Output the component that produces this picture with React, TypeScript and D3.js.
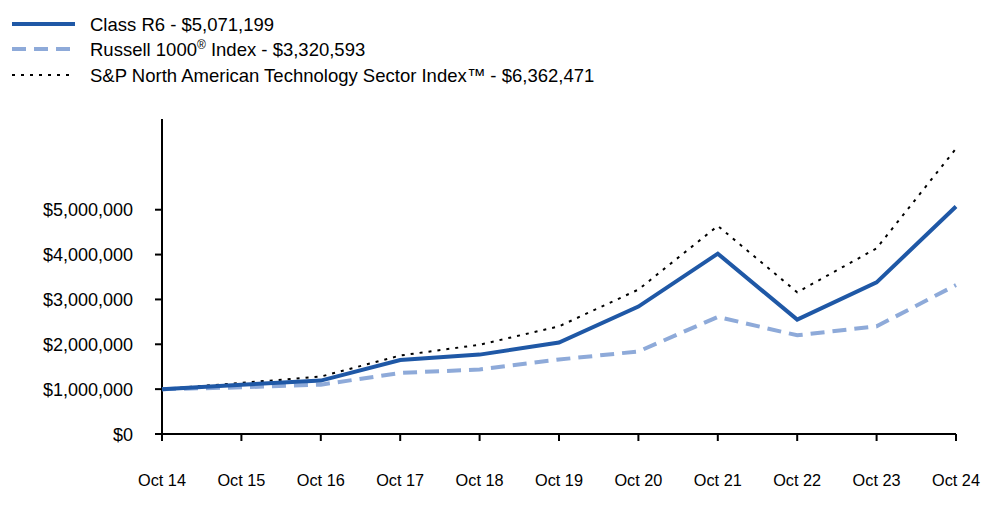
import React from "react";
import * as d3 from "d3";

const categories = ["Oct 14", "Oct 15", "Oct 16", "Oct 17", "Oct 18", "Oct 19", "Oct 20", "Oct 21", "Oct 22", "Oct 23", "Oct 24"];
const classR6 = [1000000, 1100000, 1190000, 1650000, 1770000, 2040000, 2840000, 4020000, 2550000, 3380000, 5071199];
const russell = [1000000, 1040000, 1100000, 1360000, 1440000, 1660000, 1840000, 2610000, 2200000, 2400000, 3320593];
const spTech = [1000000, 1140000, 1280000, 1750000, 1990000, 2400000, 3220000, 4640000, 3160000, 4140000, 6362471];
const yTicks = [0, 1000000, 2000000, 3000000, 4000000, 5000000];

const legendItems = [
  { label: "Class R6 - $5,071,199", color: "#1f58a6", width: 4, dash: "" },
  { label: "Russell 1000", sup: "®", rest: " Index - $3,320,593", color: "#8eaad9", width: 4, dash: "14,8" },
  { label: "S&P North American Technology Sector Index™ - $6,362,471", color: "#000000", width: 2, dash: "3,6" },
];

export default function App() {
  const W = 1000, H = 523;
  const left = 162, right = 956, top = 119, bottom = 434;
  const x = d3.scalePoint<string>().domain(categories).range([left, right]);
  const y = d3.scaleLinear().domain([0, 7000000]).range([bottom, top + 1]);
  const line = d3.line<number>().x((_, i) => x(categories[i])!).y((d) => y(d));
  const fmt = (v: number) => "$" + d3.format(",")(v);
  const font = "Liberation Sans, Arial, sans-serif";

  const series = [
    { data: spTech, color: "#000000", width: 2, dash: "3,6" },
    { data: russell, color: "#8eaad9", width: 4, dash: "14,8" },
    { data: classR6, color: "#1f58a6", width: 4, dash: "" },
  ];

  return (
    <svg width={W} height={H} style={{ position: "absolute", left: 0, top: 0 }} fontFamily={font}>
      {/* Legend */}
      {legendItems.map((it, i) => {
        const ly = [24, 49, 75][i];
        return (
          <g key={i}>
            <line x1={12} x2={75} y1={ly} y2={ly} stroke={it.color} strokeWidth={it.width} strokeDasharray={it.dash || undefined} />
            <text x={90} y={ly + 6.5} fontSize={18.5} fill="#000">
              {it.label}
              {it.sup && <tspan fontSize={12} dy={-7}>{it.sup}</tspan>}
              {it.rest && <tspan dy={7}>{it.rest}</tspan>}
            </text>
          </g>
        );
      })}

      {/* Y axis */}
      <line x1={left} x2={left} y1={top} y2={bottom + 7} stroke="#000" strokeWidth={2} />
      {yTicks.map((t) => (
        <g key={t}>
          <line x1={left - 7} x2={left} y1={y(t)} y2={y(t)} stroke="#000" strokeWidth={2} />
          <text x={left - 29} y={y(t) + 6.5} textAnchor="end" fontSize={18} fill="#000">{fmt(t)}</text>
        </g>
      ))}

      {/* X axis */}
      <line x1={left - 7} x2={right} y1={bottom} y2={bottom} stroke="#000" strokeWidth={2} />
      {categories.map((c) => (
        <g key={c}>
          <line x1={x(c)} x2={x(c)} y1={bottom} y2={bottom + 7} stroke="#000" strokeWidth={2} />
          <text x={x(c)} y={486} textAnchor="middle" fontSize={16.3} fill="#000">{c}</text>
        </g>
      ))}

      {/* Lines */}
      {series.map((s, i) => (
        <path key={i} d={line(s.data) || ""} fill="none" stroke={s.color} strokeWidth={s.width} strokeDasharray={s.dash || undefined} strokeLinejoin="miter" />
      ))}
    </svg>
  );
}
